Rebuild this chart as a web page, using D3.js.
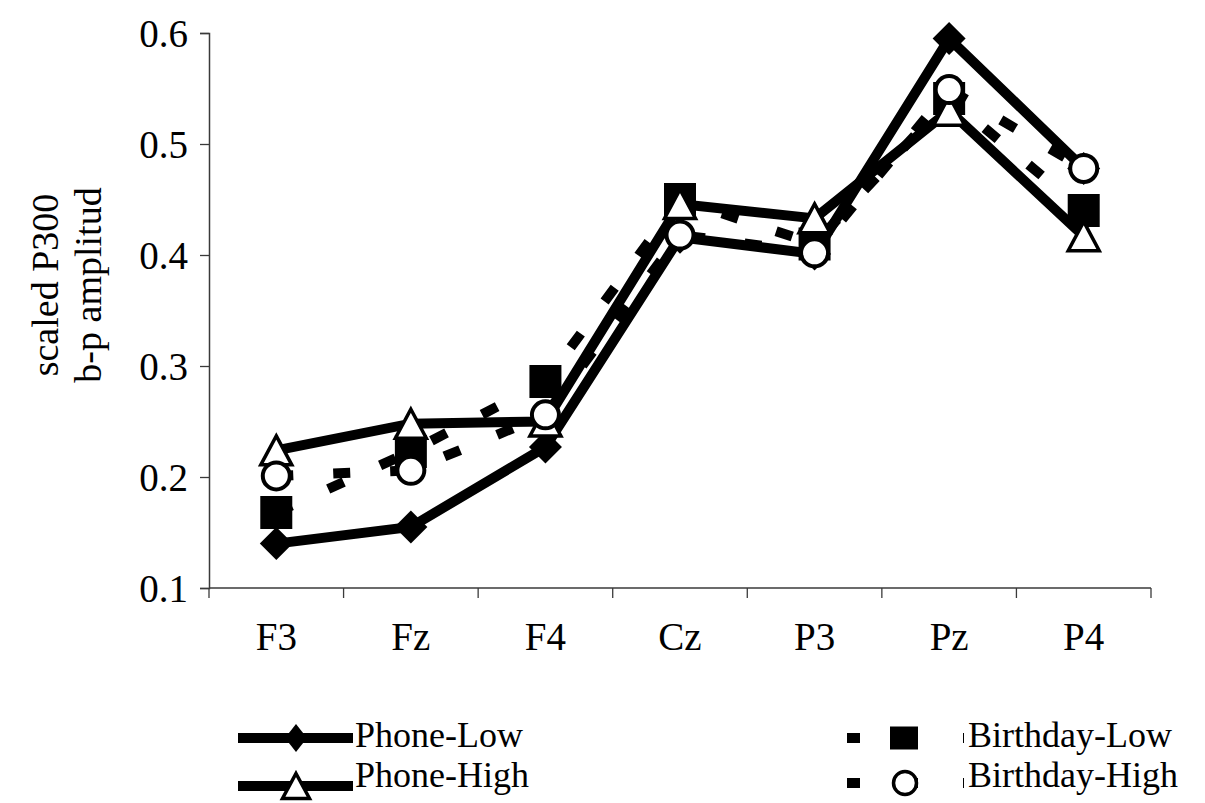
<!DOCTYPE html>
<html>
<head>
<meta charset="utf-8">
<script src="https://cdn.jsdelivr.net/npm/d3@7"></script>
<style>
  html, body { margin: 0; padding: 0; background: #fff; }
  svg { display: block; }
  text { font-family: "Liberation Serif", "Times New Roman", serif; fill: #000; }
</style>
</head>
<body>
<svg id="chart" width="1205" height="803"></svg>
<script>
// ---- data ----
const categories = ["F3", "Fz", "F4", "Cz", "P3", "Pz", "P4"];
const phoneLow     = [0.140, 0.155, 0.227, 0.416, 0.401, 0.595, 0.478];
const phoneHigh    = [0.224, 0.248, 0.250, 0.446, 0.433, 0.530, 0.417];
const birthdayLow  = [0.168, 0.223, 0.286, 0.450, 0.410, 0.541, 0.440];
const birthdayHigh = [0.201, 0.206, 0.256, 0.418, 0.402, 0.549, 0.478];
const yTicks = [0.1, 0.2, 0.3, 0.4, 0.5, 0.6];
const seriesNames = ["Phone-Low", "Phone-High", "Birthday-Low", "Birthday-High"];
const yTitle = ["scaled P300", "b-p amplitud"];

// ---- layout ----
const svg = d3.select("#chart");
const plot = { left: 209, right: 1151, top: 33, bottom: 588 };
const x = d3.scaleBand().domain(categories).range([plot.left, plot.right]).padding(0);
const y = d3.scaleLinear().domain([0.1, 0.6]).range([plot.bottom, plot.top]);
const cx = c => x(c) + x.bandwidth() / 2;

// axes
const axisColor = "#3a3a3a";
const yAxis = svg.append("g").attr("transform", `translate(${plot.left},0)`)
  .call(d3.axisLeft(y).tickValues(yTicks).tickFormat(d3.format(".1f")).tickSize(9).tickPadding(12));
const xAxis = svg.append("g").attr("transform", `translate(0,${plot.bottom})`)
  .call(d3.axisBottom(x).tickSize(0).tickPadding(0));
[yAxis, xAxis].forEach(g => {
  g.select(".domain").attr("stroke", axisColor).attr("stroke-width", 1.5);
  g.selectAll(".tick line").attr("stroke", axisColor).attr("stroke-width", 1.3);
});
yAxis.selectAll(".tick text").attr("font-size", 39).attr("font-family", "Liberation Serif").attr("fill", "#000").attr("dy", "0.34em");
xAxis.select(".domain").attr("d", `M${plot.left},0H${plot.right}`);
xAxis.selectAll(".tick text").attr("font-size", 39).attr("font-family", "Liberation Serif").attr("fill", "#000")
  .attr("transform", `translate(${x.bandwidth()/2},0)`).attr("y", 62).attr("dy", 0);
xAxis.selectAll(".tick").attr("transform", d => `translate(${x(d)},0)`);
// boundary tick marks between categories
xAxis.append("g").selectAll("line").data(categories.concat(["__end"]))
  .join("line")
  .attr("x1", (d, i) => i < categories.length ? x(d) : plot.right)
  .attr("x2", (d, i) => i < categories.length ? x(d) : plot.right)
  .attr("y1", 0).attr("y2", 10)
  .attr("stroke", axisColor).attr("stroke-width", 1.3);

// y title
const yT = svg.append("g").attr("transform", "translate(0,285) rotate(-90)");
yT.selectAll("text").data(yTitle).join("text")
  .attr("x", 0).attr("y", (d, i) => 58 + i * 43)
  .attr("text-anchor", "middle").attr("font-size", 38).text(d => d);

// ---- series ----
const series = [
  { name: seriesNames[0], values: phoneLow,     dash: null,    marker: "diamond" },
  { name: seriesNames[1], values: phoneHigh,    dash: null,    marker: "triangle" },
  { name: seriesNames[2], values: birthdayLow,  dash: "17,40", marker: "square" },
  { name: seriesNames[3], values: birthdayHigh, dash: "17,40", marker: "circle" }
];

const line = d3.line().x((d, i) => cx(categories[i])).y(d => y(d));
svg.append("g").selectAll("path").data(series).join("path")
  .attr("d", s => line(s.values))
  .attr("fill", "none").attr("stroke", "#000").attr("stroke-width", 10)
  .attr("stroke-linejoin", "miter")
  .attr("stroke-dasharray", s => s.dash);

function markerPath(type, w, h) {
  const p = d3.path();
  if (type === "diamond") {
    p.moveTo(0, -h/2); p.lineTo(w/2, 0); p.lineTo(0, h/2); p.lineTo(-w/2, 0); p.closePath();
  } else if (type === "triangle") {
    p.moveTo(0, -h/2); p.lineTo(w/2, h/2); p.lineTo(-w/2, h/2); p.closePath();
  } else if (type === "square") {
    p.rect(-w/2, -h/2, w, h);
  } else {
    p.arc(0, 0, w/2, 0, Math.PI * 2); p.closePath();
  }
  return p.toString();
}
const markerStyle = {
  diamond:  { w: 33, h: 33, fill: "#000", stroke: "none", sw: 0 },
  triangle: { w: 31, h: 29, fill: "#fff", stroke: "#000", sw: 3.5 },
  square:   { w: 32, h: 33, fill: "#000", stroke: "none", sw: 0 },
  circle:   { w: 27, h: 27, fill: "#fff", stroke: "#000", sw: 4 }
};
const drawOrder = [2, 0, 1, 3];
drawOrder.forEach(si => {
  const s = series[si];
  const st = markerStyle[s.marker];
  svg.append("g").selectAll("path").data(s.values).join("path")
    .attr("transform", (d, i) => `translate(${cx(categories[i])},${y(d)})`)
    .attr("d", markerPath(s.marker, st.w, st.h))
    .attr("fill", st.fill).attr("stroke", st.stroke).attr("stroke-width", st.sw);
});

// ---- legend ----
const legendItems = [
  { s: series[0], lx: 238, lw: 115, mx: 296, ly: 738, tx: 355, ty: 747, mw: 22, mh: 28 },
  { s: series[1], lx: 238, lw: 115, mx: 296, ly: 786, tx: 355, ty: 787, mw: 27, mh: 25 },
  { s: series[2], lx: 847, lw: 117, mx: 904, ly: 738, tx: 968, ty: 747, mw: 28, mh: 23 },
  { s: series[3], lx: 847, lw: 117, mx: 905, ly: 783, tx: 968, ty: 787, mw: 23, mh: 23 }
];
const lg = svg.append("g");
legendItems.forEach(it => {
  const st = markerStyle[it.s.marker];
  lg.append("line").attr("x1", it.lx).attr("x2", it.lx + it.lw).attr("y1", it.ly).attr("y2", it.ly)
    .attr("stroke", "#000").attr("stroke-width", 10)
    .attr("stroke-dasharray", it.s.dash ? "13,45" : null);
  lg.append("path").attr("transform", `translate(${it.mx},${it.ly})`)
    .attr("d", markerPath(it.s.marker, it.mw, it.mh))
    .attr("fill", st.fill).attr("stroke", st.stroke).attr("stroke-width", st.sw ? 3.5 : 0);
  lg.append("text").attr("x", it.tx).attr("y", it.ty).attr("font-size", 36).text(it.s.name);
});
</script>
</body>
</html>
